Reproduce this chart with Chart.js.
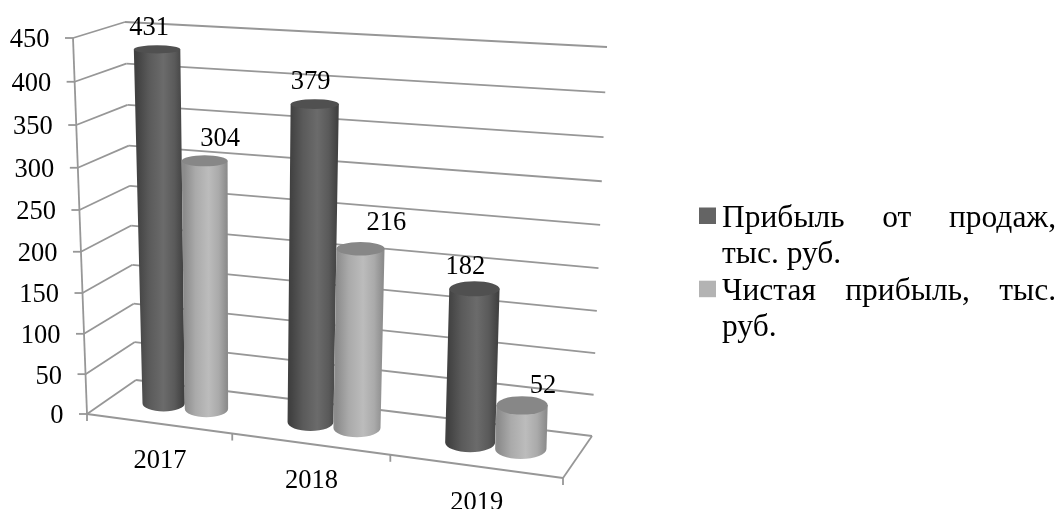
<!DOCTYPE html>
<html lang="ru">
<head>
<meta charset="utf-8">
<title>Прибыль</title>
<script src="https://cdn.jsdelivr.net/npm/chart.js@4/dist/chart.umd.min.js"></script>
<style>
html,body{margin:0;padding:0;background:#fff}
canvas{display:block}
</style>
</head>
<body>
<canvas id="chart" width="1062" height="509"></canvas>
<script>
// Values
const categories = ['2017', '2018', '2019'];
const salesProfit = [431, 379, 182];
const netProfit = [304, 216, 52];
const seriesNames = ['Прибыль от продаж, тыс. руб.', 'Чистая прибыль, тыс. руб.'];
const axisMax = 450;
const axisStep = 50;

// Look of the chart
const FONT = '26.5px "Liberation Serif", "Times New Roman", serif';
const LEGEND_FONT = '31.5px "Liberation Serif", "Times New Roman", serif';
const GRID = '#979797';
const SHADES = [
  { edge: '#414141', soft: '#5a5a5a', mid: '#6b6b6b', cap: '#505050', key: '#646464' },
  { edge: '#8c8c8c', soft: '#aaaaaa', mid: '#bcbcbc', cap: '#878787', key: '#b3b3b3' }
];
// Where the value captions sit relative to the cap of each cylinder
const CAPTION_SHIFT = [
  [[-8, -24], [-4, -25], [-9, -25]],
  [[15.5, -25], [26, -29], [21, -22]]
];
const DIGIT_DROP = 3; // digits sit above the middle of the em box

// Corners of the 3D box on the page: floor and ceiling, front/back, left/right
const BOX = {
  floor:   { fl: [87, 414], fr: [563, 478], bl: [136, 380], br: [592, 436] },
  ceiling: { fl: [73, 38],  fr: [570, 65],  bl: [125, 22],  br: [607, 47] }
};
const RISE_BIAS = 1.054;   // foreshortening of the vertical axis
const CYLINDER_DEPTH = 0.24; // radius of a cylinder as a share of the box depth
const MID_DEPTH = 0.5;
const ROW_SHIFT = 0.007;   // the cylinder rows sit slightly right of the band centres

// Homography that sends the unit square onto a quadrilateral
function squareToQuad(q) {
  const [x0, y0] = q.fl, [x1, y1] = q.fr, [x2, y2] = q.br, [x3, y3] = q.bl;
  const dx1 = x1 - x2, dx2 = x3 - x2, sx = x0 - x1 + x2 - x3;
  const dy1 = y1 - y2, dy2 = y3 - y2, sy = y0 - y1 + y2 - y3;
  const d = dx1 * dy2 - dx2 * dy1;
  const g = (sx * dy2 - dx2 * sy) / d;
  const h = (dx1 * sy - sx * dy1) / d;
  return (u, w) => {
    const den = g * u + h * w + 1;
    return [
      ((x1 - x0 + g * x1) * u + (x3 - x0 + h * x3) * w + x0) / den,
      ((y1 - y0 + g * y1) * u + (y3 - y0 + h * y3) * w + y0) / den
    ];
  };
}
const floorMap = squareToQuad(BOX.floor);
const ceilingMap = squareToQuad(BOX.ceiling);

// u: along the categories, v: up the value axis, w: into the page; all 0..1
function project(u, v, w) {
  const a = floorMap(u, w), b = ceilingMap(u, w);
  const t = v / (v + (1 - v) * RISE_BIAS);
  return [a[0] + (b[0] - a[0]) * t, a[1] + (b[1] - a[1]) * t];
}

function segment(ctx, p, q) {
  ctx.beginPath();
  ctx.moveTo(p[0], p[1]);
  ctx.lineTo(q[0], q[1]);
  ctx.stroke();
}

function drawFrame(chart) {
  const { ctx } = chart;
  const y = chart.scales.y, x = chart.scales.x;
  const vOf = val => (y.bottom - y.getPixelForValue(val)) / y.height;

  ctx.save();
  ctx.strokeStyle = GRID;
  ctx.lineWidth = 1.8;
  ctx.lineCap = 'butt';

  // Side wall, back wall and tick marks for every value tick
  ctx.font = FONT;
  ctx.fillStyle = '#000';
  ctx.textAlign = 'right';
  ctx.textBaseline = 'middle';
  y.ticks.forEach(t => {
    const v = vOf(t.value);
    const front = project(0, v, 0), corner = project(0, v, 1), far = project(1, v, 1);
    segment(ctx, [front[0] - 8, front[1]], front);
    segment(ctx, front, corner);
    segment(ctx, corner, far);
    ctx.fillText(String(t.value), front[0] - 23.5, front[1] + DIGIT_DROP - 0.5);
  });

  // Front edge of the value axis
  segment(ctx, project(0, 1, 0), project(0, 0, 0));

  // Floor edges
  const n = categories.length;
  segment(ctx, project(0, 0, 0), project(1, 0, 0));
  segment(ctx, project(1, 0, 0), project(1, 0, 1));

  // Category ticks and their labels
  for (let i = 0; i <= n; i++) {
    const p = project(i / n, 0, 0);
    segment(ctx, p, [p[0], p[1] + 7]);
  }
  ctx.textAlign = 'center';
  categories.forEach((c, i) => {
    const left = (x.getPixelForValue(i) - x.left) / x.width;
    const p = project(left, 0, 0);
    ctx.fillText(c, p[0] + 2, p[1] + 34 + DIGIT_DROP);
  });
  ctx.restore();
}

function drawCylinder(ctx, bar, scales, shade) {
  const { x, y } = scales;
  const uc = (bar.x - x.left) / x.width + ROW_SHIFT;
  const du = bar.width / 2 / x.width;
  const vTop = (y.bottom - bar.y) / y.height;
  const ring = v => {
    const c = project(uc, v, MID_DEPTH);
    const l = project(uc - du, v, MID_DEPTH), r = project(uc + du, v, MID_DEPTH);
    const f = project(uc, v, MID_DEPTH - CYLINDER_DEPTH), b = project(uc, v, MID_DEPTH + CYLINDER_DEPTH);
    return { x: c[0], y: c[1], rx: (r[0] - l[0]) / 2, ry: Math.abs(f[1] - b[1]) / 2 };
  };
  const top = ring(vTop), bottom = ring(0);
  const minX = Math.min(top.x - top.rx, bottom.x - bottom.rx);
  const maxX = Math.max(top.x + top.rx, bottom.x + bottom.rx);

  const g = ctx.createLinearGradient(minX, 0, maxX, 0);
  g.addColorStop(0, shade.edge);
  g.addColorStop(0.06, shade.edge);
  g.addColorStop(0.3, shade.soft);
  g.addColorStop(0.58, shade.mid);
  g.addColorStop(0.8, shade.soft);
  g.addColorStop(0.97, shade.edge);
  g.addColorStop(1, shade.edge);

  ctx.beginPath();
  ctx.moveTo(top.x - top.rx, top.y);
  ctx.lineTo(bottom.x - bottom.rx, bottom.y);
  ctx.ellipse(bottom.x, bottom.y, bottom.rx, bottom.ry, 0, Math.PI, 0, true);
  ctx.lineTo(top.x + top.rx, top.y);
  ctx.closePath();
  ctx.fillStyle = g;
  ctx.fill();

  ctx.beginPath();
  ctx.ellipse(top.x, top.y, top.rx, top.ry, 0, 0, Math.PI * 2);
  ctx.fillStyle = shade.cap;
  ctx.fill();
  return top;
}

function drawLegend(chart) {
  const { ctx } = chart;
  const textLeft = 722, textRight = 1056, keyLeft = 699, keySize = 17;
  const lineStep = 36.6;
  let baseline = 226.5;
  ctx.save();
  ctx.font = LEGEND_FONT;
  ctx.textBaseline = 'alphabetic';
  ctx.textAlign = 'left';
  chart.data.datasets.forEach((ds, idx) => {
    ctx.fillStyle = SHADES[idx].key;
    ctx.fillRect(keyLeft, baseline - 19, keySize, keySize - 0.5);
    ctx.fillStyle = '#000';
    // Greedy wrap, then stretch every line but the last to the full width
    const lines = [];
    let cur = [];
    ds.label.split(' ').forEach(word => {
      if (ctx.measureText(cur.concat(word).join(' ')).width > textRight - textLeft) {
        lines.push(cur);
        cur = [word];
      } else cur.push(word);
    });
    lines.push(cur);
    lines.forEach((words, li) => {
      if (li < lines.length - 1 && words.length > 1) {
        const used = words.reduce((s, w) => s + ctx.measureText(w).width, 0);
        const gap = (textRight - textLeft - used) / (words.length - 1);
        let px = textLeft;
        words.forEach(w => {
          ctx.fillText(w, px, baseline);
          px += ctx.measureText(w).width + gap;
        });
      } else {
        ctx.fillText(words.join(' '), textLeft, baseline);
      }
      baseline += lineStep;
    });
  });
  ctx.restore();
}

const cylinders3d = {
  id: 'cylinders3d',
  beforeDatasetsDraw(chart) {
    drawFrame(chart);
    const { ctx } = chart;
    const tops = [];
    const scales = chart.scales;
    // Paint each category from the far series outward, left to right
    categories.forEach((_, i) => {
      chart.data.datasets.forEach((ds, di) => {
        const bar = chart.getDatasetMeta(di).data[i];
        const top = drawCylinder(ctx, bar, scales, SHADES[di]);
        tops.push({ top, text: String(ds.data[i]), shift: CAPTION_SHIFT[di][i] });
      });
    });
    ctx.save();
    ctx.font = FONT;
    ctx.fillStyle = '#000';
    ctx.textAlign = 'center';
    ctx.textBaseline = 'middle';
    tops.forEach(t => ctx.fillText(t.text, t.top.x + t.shift[0], t.top.y + t.shift[1] + DIGIT_DROP));
    ctx.restore();
    drawLegend(chart);
  },
  // The cylinders replace the flat rectangles of the bar elements
  beforeDatasetDraw() { return false; }
};

new Chart(document.getElementById('chart'), {
  type: 'bar',
  data: {
    labels: categories,
    datasets: [
      { label: seriesNames[0], data: salesProfit, backgroundColor: SHADES[0].key },
      { label: seriesNames[1], data: netProfit, backgroundColor: SHADES[1].key }
    ]
  },
  options: {
    responsive: false,
    animation: false,
    categoryPercentage: 0.6,
    barPercentage: 1,
    plugins: { legend: { display: false }, tooltip: { enabled: false } },
    scales: {
      x: { display: false },
      y: { display: false, min: 0, max: axisMax, ticks: { stepSize: axisStep } }
    }
  },
  plugins: [cylinders3d]
});
</script>
</body>
</html>
